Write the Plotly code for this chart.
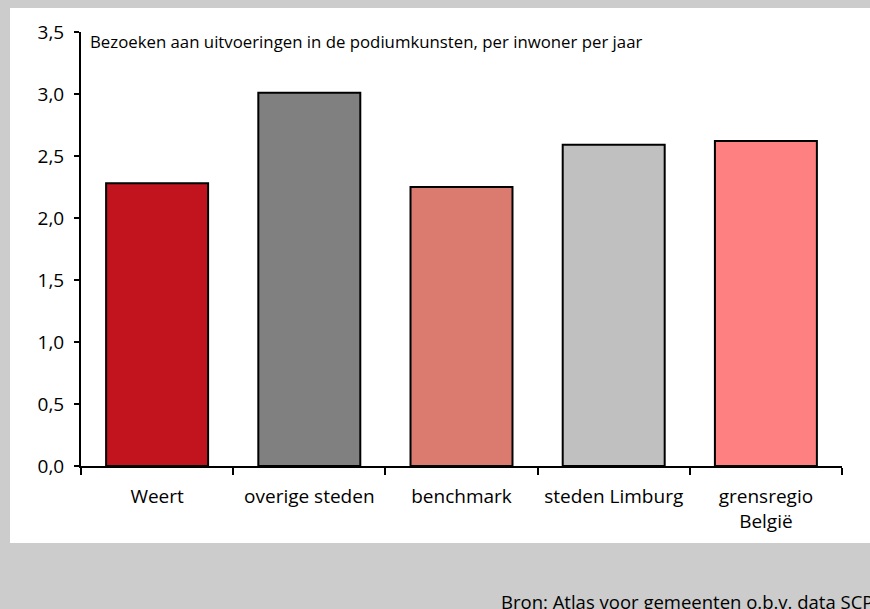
import plotly.graph_objects as go

categories = ["Weert", "overige steden", "benchmark", "steden Limburg", "grensregio<br>België"]
values = [2.28, 3.01, 2.25, 2.59, 2.62]
bar_colors = ["#C1141F", "#808080", "#DB7B70", "#C0C0C0", "#FF8080"]
y_tick_vals = [0, 0.5, 1.0, 1.5, 2.0, 2.5, 3.0, 3.5]
y_tick_text = ["0,0", "0,5", "1,0", "1,5", "2,0", "2,5", "3,0", "3,5"]
title_text = "Bezoeken aan uitvoeringen in de podiumkunsten, per inwoner per jaar"
source_text = "Bron: Atlas voor gemeenten o.b.v. data SCP"

W, H = 870, 609
L, R, T, B = 81, 28, 32, 143
pw = W - L - R
ph = H - T - B

def px(x):
    return (x - L) / pw

def py(y):
    return (H - B - y) / ph

FONT = "Open Sans"

fig = go.Figure()
fig.add_trace(go.Bar(
    x=categories, y=values, width=0.67,
    marker=dict(color=bar_colors, line=dict(color="black", width=2)),
    hoverinfo="skip",
))

fig.add_shape(type="rect", xref="paper", yref="paper", layer="below",
              x0=px(10), x1=px(875), y0=py(543), y1=py(8),
              fillcolor="white", line=dict(width=0))

fig.add_annotation(text=title_text, xref="paper", yref="paper",
                   x=px(88), y=py(41.5), xanchor="left", yanchor="middle",
                   showarrow=False, font=dict(family=FONT, size=16.8, color="black"))
fig.add_annotation(text=source_text, xref="paper", yref="paper",
                   x=px(499), y=py(587), xanchor="left", yanchor="top",
                   showarrow=False, font=dict(family=FONT, size=18.5, color="black"))

fig.update_layout(
    width=W, height=H,
    margin=dict(l=L, r=R, t=T, b=B, pad=0),
    paper_bgcolor="#CCCCCC", plot_bgcolor="white",
    showlegend=False,
    font=dict(family=FONT, size=19, color="black"),
    bargap=0.33,
)
fig.update_xaxes(
    showline=True, linecolor="black", linewidth=2,
    ticks="outside", tickson="boundaries", ticklen=7, tickwidth=2, tickcolor="black",
    showgrid=False, ticklabelstandoff=12,
    tickfont=dict(family=FONT, size=19),
)
fig.update_yaxes(
    range=[0, 3.5], tickvals=y_tick_vals, ticktext=y_tick_text,
    showline=True, linecolor="black", linewidth=2,
    ticks="outside", ticklen=5, tickwidth=2, tickcolor="black",
    showgrid=False, zeroline=False, ticklabelstandoff=6,
    tickfont=dict(family=FONT, size=19),
)

fig.write_html(
    "out.html",
    config={"displayModeBar": False},
    post_script="document.body.style.margin='0';document.body.style.background='#CCCCCC';",
)
